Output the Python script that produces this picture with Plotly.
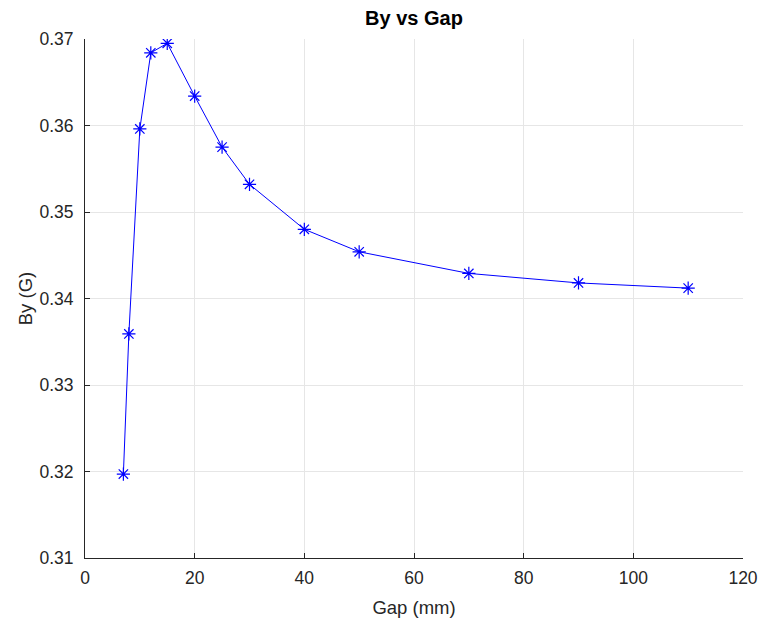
import plotly.graph_objects as go

# Measured field vs. gap
gap_mm = [7, 8, 10, 12, 15, 20, 25, 30, 40, 50, 70, 90, 110]
by_gauss = [0.3197, 0.3359, 0.3596, 0.3684, 0.3695, 0.3634, 0.3575, 0.3532,
            0.3480, 0.3454, 0.3429, 0.3418, 0.3412]

x_ticks = [0, 20, 40, 60, 80, 100, 120]
y_ticks = [0.31, 0.32, 0.33, 0.34, 0.35, 0.36, 0.37]

axis_color = "#262626"
grid_color = "#e6e6e6"
font_family = "Liberation Sans, Arial, sans-serif"

fig = go.Figure()
fig.add_trace(go.Scatter(
    x=gap_mm, y=by_gauss,
    mode="lines+markers",
    line=dict(color="#0000ff", width=1),
    marker=dict(symbol="asterisk-open", size=11,
                line=dict(color="#0000ff", width=1.2)),
    showlegend=False,
))

axis_common = dict(
    showline=True, linecolor=axis_color, linewidth=1,
    ticks="inside", ticklen=5, tickcolor=axis_color,
    showgrid=True, gridcolor=grid_color, gridwidth=1,
    zeroline=False, mirror=False, automargin=False,
    tickfont=dict(family=font_family, size=17.5, color=axis_color),
    title_font=dict(family=font_family, size=18.5, color=axis_color),
)

fig.update_xaxes(range=[0, 120], tickvals=x_ticks, ticklabelstandoff=4,
                 title_text="Gap (mm)", title_standoff=14, **axis_common)
fig.update_yaxes(range=[0.31, 0.37], tickvals=y_ticks, ticklabelstandoff=7,
                 tickformat=".2f", title_text="By (G)", title_standoff=1,
                 **axis_common)

fig.update_layout(
    width=761, height=626,
    margin=dict(l=85, r=18, t=39, b=68),
    plot_bgcolor="white", paper_bgcolor="white",
    title=dict(text="<b>By vs Gap</b>", xref="paper", x=0.5, xanchor="center",
               y=1 - 18 / 626, yanchor="middle",
               font=dict(family=font_family, size=20, color="black")),
)

fig.write_html("out.html")
